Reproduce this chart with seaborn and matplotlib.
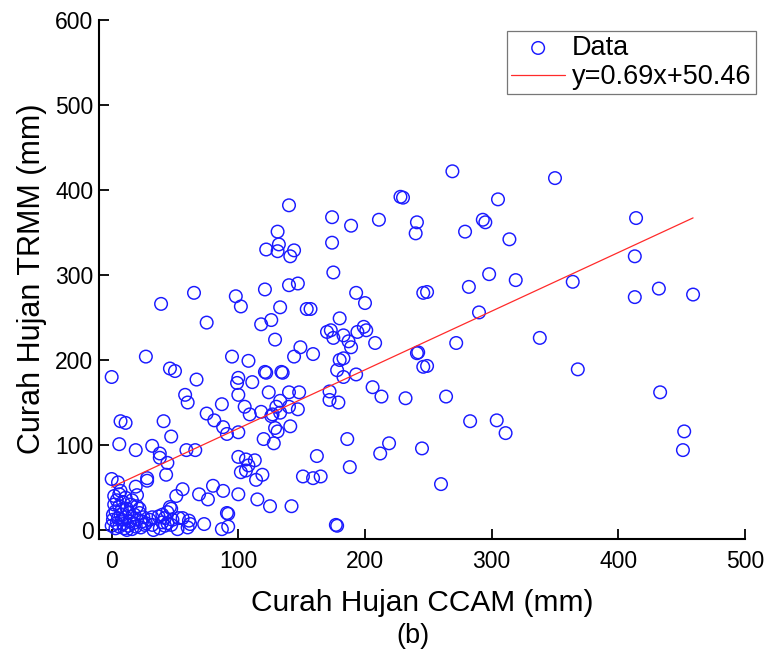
import numpy as np
import pandas as pd
import matplotlib
matplotlib.use("Agg")
import matplotlib.pyplot as plt
import seaborn as sns

# ---- data ----
ccam = [
    269, 350, 305, 230, 241, 240, 279, 293, 295, 314, 414, 413, 298, 319,
    140, 228, 174, 189, 211, 131, 132, 122, 131, 144, 141, 174, 175,
    65, 39, 98, 102, 121, 140, 147, 133, 154, 157, 75, 118, 126, 129, 180, 193, 200,
    170, 173, 175, 183, 187, 189, 194, 199, 201, 208, 246, 241, 246,
    27, 0, 46, 50, 67, 95, 108, 100, 99, 111, 121, 122, 134, 135,
    100, 124, 140, 148, 58, 60, 87, 105, 109, 118, 126, 127, 130, 133, 133, 140, 147,
    75, 81, 88, 91, 100, 141, 129, 131, 120, 128,
    172, 172, 179, 183, 193, 206, 213, 232, 186, 212, 219, 245, 162, 188, 151, 159, 165,
    177, 178, 142, 125, 115, 100, 106, 113, 108, 106, 102, 119, 114, 100, 91, 92, 87, 92,
    80, 88, 76, 69, 73, 56, 51, 47, 41, 66, 59, 32, 38, 38, 44, 43, 28, 28, 19, 6, 7, 11,
    0, 5, 7, 19, 20, 16, 149, 144, 159, 183, 180, 178,
    249, 282, 364, 413, 432, 459, 290, 242, 249, 272, 338, 368, 433, 264, 283, 304, 311,
    260, 452, 451,
    47, 46, 44, 56, 61, 62, 32, 32, 22, 42, 40, 44, 42, 47, 37, 40, 48, 53, 52, 38, 33,
    60, 25, 27, 30,
    2, 4, 6, 9, 3, 7, 12, 15, 1, 4, 8, 11, 14, 18, 20, 22, 3, 6, 10, 13, 16, 19, 23, 26,
    1, 5, 9, 12, 17, 0, 8, 14, 20, 24, 2, 6, 11,
]
trmm = [
    422, 414, 389, 391, 362, 349, 351, 365, 362, 342, 367, 322, 301, 294,
    382, 392, 368, 358, 365, 351, 336, 330, 328, 329, 322, 338, 303,
    279, 266, 275, 263, 283, 288, 290, 262, 260, 260, 244, 242, 247, 224, 249, 279, 267,
    233, 235, 226, 229, 222, 215, 233, 239, 235, 220, 279, 208, 192,
    204, 180, 190, 187, 177, 204, 199, 179, 173, 174, 186, 185, 186, 185,
    159, 162, 162, 162, 159, 150, 148, 145, 136, 139, 134, 136, 145, 152, 138, 145, 142,
    137, 129, 121, 113, 115, 122, 120, 116, 107, 102,
    163, 153, 150, 180, 183, 168, 157, 155, 107, 90, 102, 96, 87, 74, 63, 61, 63,
    6, 5, 28, 28, 36, 42, 83, 82, 76, 70, 68, 65, 59, 86, 20, 19, 1, 4,
    52, 46, 36, 42, 7, 48, 40, 110, 128, 94, 94, 99, 90, 85, 79, 65, 61, 58, 94, 101, 128, 126,
    60, 56, 46, 51, 41, 35, 215, 204, 207, 202, 200, 188,
    280, 286, 292, 274, 284, 277, 256, 209, 193, 220, 226, 189, 162, 157, 128, 129, 114,
    54, 116, 94,
    25, 27, 21, 14, 11, 7, 15, 6, 20, 14, 9, 8, 5, 6, 16, 18, 12, 14, 1, 2, 0,
    3, 15, 8, 12,
    30, 35, 28, 33, 22, 18, 25, 30, 12, 8, 12, 15, 10, 18, 12, 25, 2, 4, 2, 5, 1, 4, 3, 6,
    18, 14, 7, 0, 8, 5, 24, 20, 28, 10, 40, 42, 38,
]
slope = 0.69
intercept = 50.46
series_labels = ["Data", "y=0.69x+50.46"]
x_label = "Curah Hujan CCAM (mm)"
y_label = "Curah Hujan TRMM (mm)"
caption = "(b)"
x_ticks = [0, 100, 200, 300, 400, 500]
y_ticks = [0, 100, 200, 300, 400, 500, 600]

df = pd.DataFrame({"ccam": ccam, "trmm": trmm})
fit_x = np.array([df["ccam"].min(), df["ccam"].max()], dtype=float)
fit = pd.DataFrame({"x": fit_x, "y": slope * fit_x + intercept})

# ---- style ----
sns.set_style("ticks")
plt.rcParams["font.family"] = ["Liberation Sans", "DejaVu Sans"]
plt.rcParams["text.color"] = "black"
plt.rcParams["axes.labelcolor"] = "black"
plt.rcParams["xtick.color"] = "black"
plt.rcParams["ytick.color"] = "black"

W, H = 769, 657
fig = plt.figure(figsize=(W / 100, H / 100), dpi=100)
ax = fig.add_axes([99 / W, 1 - 538.5 / H, (745 - 99) / W, (538.5 - 20) / H])

sns.scatterplot(data=df, x="ccam", y="trmm", ax=ax, marker="o", s=82,
                facecolor="none", edgecolor="#1a1aff", linewidth=1.05,
                label=series_labels[0], zorder=3)
sns.lineplot(data=fit, x="x", y="y", ax=ax, color="#ff2a2a", linewidth=0.9,
             label=series_labels[1], zorder=4)

ax.set_xlim(-10, 500)
ax.set_ylim(-10, 600)
ax.set_xticks(x_ticks)
ax.set_yticks(y_ticks)
ax.set_xlabel(x_label, fontsize=21.5, labelpad=12)
ax.set_ylabel(y_label, fontsize=22, labelpad=6)
ax.tick_params(direction="in", length=7, width=1.3, labelsize=16.5, colors="black")
ax.tick_params(axis="x", pad=8)
ax.tick_params(axis="y", pad=4)
for s in ["left", "bottom"]:
    ax.spines[s].set_linewidth(1.5)
    ax.spines[s].set_color("black")
sns.despine(ax=ax)

leg = ax.legend(loc="upper left", bbox_to_anchor=(507 / W, 1 - 31 / H),
                bbox_transform=fig.transFigure, fontsize=19.5, frameon=True,
                fancybox=False, edgecolor="#555555", borderpad=0.15,
                handlelength=2.0, handletextpad=0.25, labelspacing=0.12,
                borderaxespad=0)
leg.get_frame().set_linewidth(0.9)

fig.text(413 / W, 1 - 636 / H, caption, ha="center", va="center", fontsize=19.5)

fig.savefig("out.png", dpi=100)
